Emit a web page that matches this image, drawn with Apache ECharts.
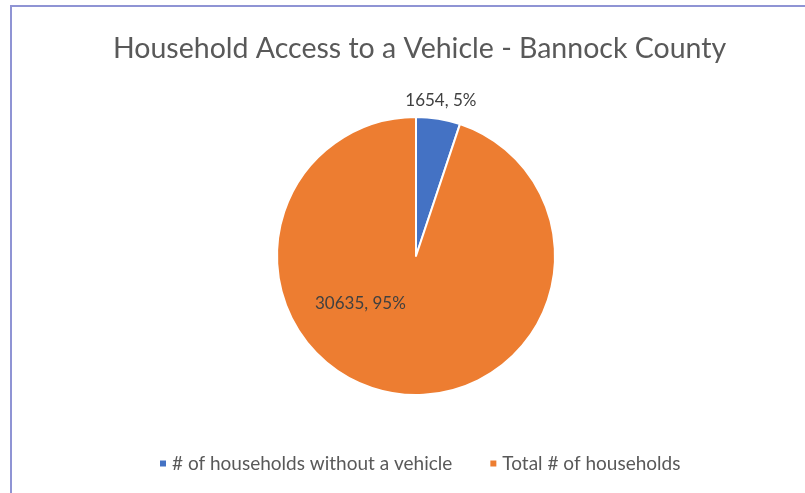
<!DOCTYPE html>
<html>
<head>
<meta charset="utf-8">
<script src="https://cdn.jsdelivr.net/npm/echarts@6/dist/echarts.min.js"></script>
<style>
html,body{margin:0;padding:0;background:#fff;}
#c{width:805px;height:493px;}
</style>
</head>
<body>
<div id="c"></div>
<script>
const titleText = "Household Access to a Vehicle - Bannock County";
const categories = ["# of households without a vehicle", "Total # of households"];
const values = [1654, 30635];
const percents = ["5%", "95%"];
const colors = ["#4472C4", "#ED7D31"];
const labelShift = [[-38, -18], [-44, -24]];

const chart = echarts.init(document.getElementById('c'), null, {renderer: 'canvas'});
const data = categories.map((name, i) => ({
  name: name,
  value: values[i],
  itemStyle: {color: colors[i]},
  label: i === 0 ? {position: 'outside'} : {position: 'inside'}
}));

chart.setOption({
  animation: false,
  backgroundColor: '#ffffff',
  title: {
    text: titleText,
    left: 108,
    top: 29,
    textStyle: {fontFamily: 'Lato', fontWeight: 'normal', fontSize: 28.5, color: '#595959'}
  },
  legend: {
    bottom: 15,
    left: 153,
    icon: 'rect',
    itemWidth: 8,
    itemHeight: 8,
    itemGap: 36,
    textStyle: {fontFamily: 'Lato', fontSize: 19, color: '#595959'},
    data: categories
  },
  graphic: [{
    type: 'rect',
    shape: {x: 11, y: 6, width: 900, height: 600},
    style: {fill: 'none', stroke: '#8f94d4', lineWidth: 2},
    silent: true
  }],
  series: [{
    type: 'pie',
    center: [416, 256],
    radius: 139,
    startAngle: 90,
    clockwise: true,
    itemStyle: {borderColor: '#ffffff', borderWidth: 2},
    labelLine: {show: false, length: 0, length2: 0},
    label: {
      fontFamily: 'Lato',
      fontSize: 17,
      color: '#404040',
      formatter: p => p.value + ', ' + percents[p.dataIndex]
    },
    labelLayout: p => ({dx: labelShift[p.dataIndex][0], dy: labelShift[p.dataIndex][1]}),
    data: data
  }]
});
</script>
</body>
</html>
